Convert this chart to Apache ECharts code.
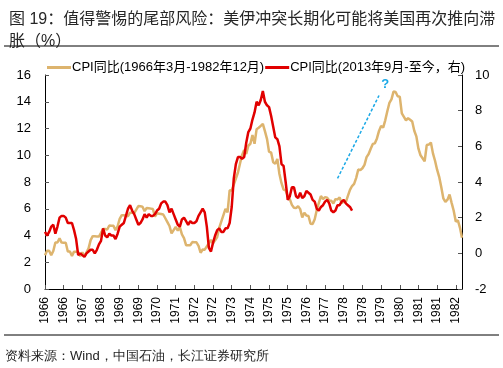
<!DOCTYPE html>
<html>
<head>
<meta charset="utf-8">
<script src="https://cdn.jsdelivr.net/npm/echarts@6/dist/echarts.min.js"></script>
<style>
html,body{margin:0;padding:0;background:#fff;}
#c{width:503px;height:368px;}
</style>
</head>
<body>
<div id="c"></div>
<script>
// month categories 1966-03 .. 1982-12
var startYear = 1966, startMonth = 3, monthCount = 202;
var categories = [];
for (var k = 0; k < monthCount; k++) {
  var m = startMonth - 1 + k;
  var yy = startYear + Math.floor(m / 12);
  var mm = (m % 12) + 1;
  categories.push(yy + '-' + (mm < 10 ? '0' + mm : mm));
}

// US CPI YoY, 1966-03 .. 1982-12 (left axis)
var cpi1966 = [
  2.53,2.86,2.86,2.53,2.84,3.48,3.48,3.79,3.47,3.46,
  3.46,2.81,2.80,2.48,2.79,2.78,2.77,2.45,2.75,2.43,2.74,3.04,
  3.65,3.95,3.94,3.93,3.92,4.20,4.49,4.48,4.45,4.75,4.73,4.72,
  4.40,4.69,5.25,5.52,5.51,5.48,5.44,5.71,5.70,5.68,5.93,6.20,
  6.18,6.15,5.82,6.06,6.04,6.01,5.98,5.41,5.66,5.63,5.60,5.57,
  5.29,5.00,4.71,4.16,4.40,4.64,4.36,4.62,4.08,3.81,3.28,3.27,
  3.27,3.51,3.50,3.49,3.23,2.71,2.95,2.94,3.19,3.42,3.67,3.41,
  3.65,3.88,4.59,5.06,5.53,5.99,5.73,7.38,7.36,7.80,8.25,8.71,
  9.39,10.02,10.39,10.09,10.71,10.86,11.51,10.86,11.95,12.06,12.20,12.34,
  11.80,11.23,10.25,10.21,9.47,9.36,9.72,8.60,7.91,7.44,7.38,6.94,
  6.72,6.29,6.07,6.05,6.20,5.97,5.35,5.71,5.49,5.46,4.88,4.86,
  5.22,5.91,6.44,6.95,6.73,6.87,6.83,6.62,6.60,6.39,6.72,6.70,
  6.84,6.43,6.55,6.50,6.96,7.41,7.70,7.86,8.31,8.93,8.89,9.03,
  9.28,9.86,10.09,10.49,10.85,10.89,11.26,11.82,12.18,12.07,12.61,13.29,
  13.91,14.18,14.76,14.73,14.41,14.38,13.13,12.87,12.60,12.77,12.65,12.52,
  11.83,11.41,10.49,10.00,9.78,9.55,10.76,10.80,10.95,10.14,9.59,8.92,
  8.39,7.62,6.78,6.51,6.68,7.06,6.44,5.85,5.04,5.14,4.59,3.83
];

// US CPI YoY, 2013-09 .. latest (right axis)
var cpi2013 = [
  1.2,1.0,1.2,1.5,
  1.6,1.1,1.5,2.0,2.1,2.1,2.0,1.7,1.7,1.7,1.3,0.8,
  -0.1,0.0,-0.1,-0.2,0.0,0.1,0.2,0.2,0.0,0.2,0.5,0.7,
  1.4,1.0,0.9,1.1,1.0,1.0,0.8,1.1,1.5,1.6,1.7,2.1,
  2.5,2.7,2.4,2.2,1.9,1.6,1.7,1.9,2.2,2.0,2.2,2.1,
  2.1,2.2,2.4,2.5,2.8,2.9,2.9,2.7,2.3,2.5,2.2,1.9,
  1.6,1.5,1.9,2.0,1.8,1.6,1.8,1.7,1.7,1.8,2.1,2.3,
  2.5,2.3,1.5,0.3,0.1,0.6,1.0,1.3,1.4,1.2,1.2,1.4,
  1.4,1.7,2.6,4.2,5.0,5.4,5.4,5.3,5.4,6.2,6.8,7.0,
  7.5,7.9,8.5,8.3,8.6,9.1,8.5,8.3,8.2,7.7,7.1,6.5,
  6.4,6.0,5.0,4.9,4.0,3.0,3.2,3.7,3.7,3.2,3.1,3.4,
  3.1,3.2,3.5,3.4,3.3,3.0,2.9,2.5,2.4,2.6,2.7,2.9,
  3.0,2.8,2.4,2.3,2.4,2.7,2.7,2.9,3.0,2.8,2.7,2.6,
  2.4
];

var leftTicks = {min: 0, max: 16, interval: 2};
var rightTicks = {min: -2, max: 10, interval: 2};

// annotation arrow (category index, right-axis value)
var arrowFrom = [141, 4.2];
var arrowTo = [160.5, 8.85];
var questionAt = [164, 9.45];

var seriesNames = ['CPI同比(1966年3月-1982年12月)', 'CPI同比(2013年9月-至今，右)'];
var titleText = '图 19：值得警惕的尾部风险：美伊冲突长期化可能将美国再次推向滞\n胀（%）';
var sourceText = '资料来源：Wind，中国石油，长江证券研究所';

var FONT = '"Liberation Sans", Arial, "Noto Sans CJK SC", sans-serif';
var GOLD = '#DDB46E';
var RED = '#E10000';
var BLUE = '#1AA8E6';

var chart = echarts.init(document.getElementById('c'), null, {renderer: 'canvas'});
chart.setOption({
  animation: false,
  backgroundColor: '#fff',
  textStyle: {fontFamily: FONT},
  title: {
    text: titleText,
    left: 4, top: 4,
    textStyle: {fontSize: 16, fontWeight: 'normal', color: '#262626', lineHeight: 22, fontFamily: FONT}
  },
  graphic: [
    {type: 'line', shape: {x1: 4, y1: 46, x2: 499, y2: 46}, style: {stroke: '#000', lineWidth: 1}, silent: true},
    {type: 'line', shape: {x1: 4, y1: 335, x2: 499, y2: 335}, style: {stroke: '#000', lineWidth: 1}, silent: true},
    {type: 'text', left: 5, top: 350, style: {text: sourceText, fontSize: 13, fill: '#222', font: '13px ' + FONT}, silent: true}
  ],
  legend: {
    top: 56, left: 42,
    itemWidth: 24, itemHeight: 3, itemGap: 1,
    icon: 'rect',
    textStyle: {fontSize: 13, color: '#000', padding: [0, 0, 0, -4]},
    data: seriesNames
  },
  grid: {left: 45, right: 41, top: 75, bottom: 79, containLabel: false},
  xAxis: {
    type: 'category',
    data: categories,
    boundaryGap: false,
    axisLine: {lineStyle: {color: '#000', width: 1}},
    axisTick: {show: true, inside: true, length: 4, interval: 8, lineStyle: {color: '#555'}},
    axisLabel: {
      interval: 8, rotate: 90, margin: 8, fontSize: 12, color: '#000',
      formatter: function (v) { return v.slice(0, 4); }
    },
    splitLine: {show: false}
  },
  yAxis: [
    {
      type: 'value', position: 'left',
      min: leftTicks.min, max: leftTicks.max, interval: leftTicks.interval,
      axisLine: {show: true, lineStyle: {color: '#000', width: 1}},
      axisTick: {show: true, inside: true, length: 4, lineStyle: {color: '#555'}},
      axisLabel: {fontSize: 13, color: '#000', margin: 14},
      splitLine: {show: false}
    },
    {
      type: 'value', position: 'right',
      min: rightTicks.min, max: rightTicks.max, interval: rightTicks.interval,
      axisLine: {show: true, lineStyle: {color: '#000', width: 1}},
      axisTick: {show: true, inside: true, length: 4, lineStyle: {color: '#555'}},
      axisLabel: {fontSize: 13, color: '#000', margin: 13},
      splitLine: {show: false}
    }
  ],
  series: [
    {
      name: seriesNames[0], type: 'line', yAxisIndex: 0,
      data: cpi1966, showSymbol: false, symbol: 'none',
      lineStyle: {color: GOLD, width: 2.5}, itemStyle: {color: GOLD},
      z: 2
    },
    {
      name: seriesNames[1], type: 'line', yAxisIndex: 1,
      data: cpi2013, showSymbol: false, symbol: 'none',
      lineStyle: {color: RED, width: 2.5}, itemStyle: {color: RED},
      z: 3,
      markLine: {
        silent: true,
        symbol: ['none', 'arrow'], symbolSize: [0, 8],
        label: {show: false},
        lineStyle: {color: BLUE, type: [3, 2], width: 1.5},
        data: [[{coord: arrowFrom}, {coord: arrowTo}]]
      },
      markPoint: {
        silent: true,
        symbol: 'circle', symbolSize: 1,
        itemStyle: {color: 'rgba(0,0,0,0)'},
        label: {show: true, position: 'inside', formatter: '?', fontSize: 13, fontWeight: 'bold', color: BLUE},
        data: [{coord: questionAt}]
      }
    }
  ]
});
</script>
</body>
</html>
